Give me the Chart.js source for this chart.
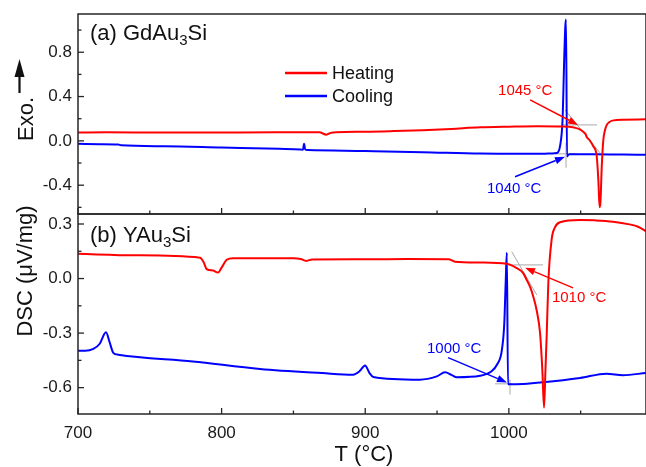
<!DOCTYPE html>
<html><head><meta charset="utf-8">
<script src="https://cdn.jsdelivr.net/npm/chart.js@4/dist/chart.umd.min.js"></script>
<style>
html,body{margin:0;padding:0;background:#fff;}
#wrap{position:relative;width:646px;height:467px;overflow:hidden;background:#fff;}
canvas{position:absolute;left:0;}
</style></head><body>
<div id="wrap">
<canvas id="ca" width="646" height="216" style="top:0px"></canvas>
<canvas id="cb" width="646" height="277" style="top:190px"></canvas>
</div>
<script>
// ---------- axis ticks ----------
const xTicks = [700, 800, 900, 1000];
const xMinorTicks = [750, 850, 950, 1050];
const yTicksA = [-0.4, 0.0, 0.4, 0.8];
const yMinorA = [-0.6, -0.2, 0.2, 0.6, 1.0];
const yTicksB = [-0.6, -0.3, 0.0, 0.3];
const yMinorB = [-0.45, -0.15, 0.15];

// ---------- (a) GdAu3Si ----------
const gdHeatT = [700,720,760,800,840,868,873,876,880,900,920,940,960,980,1000,1020,1035,1042,1047,1050,1052,1053.5,1054.2,1056,1058.8,1061.2,1062.3,1063.2,1063.8,1064.7,1065.8,1067,1068.2,1070,1072.8,1080,1095.5];
const gdHeatV = [0.075,0.077,0.075,0.076,0.077,0.077,0.056,0.072,0.078,0.082,0.088,0.096,0.108,0.122,0.128,0.132,0.13,0.127,0.115,0.1,0.08,0.06,0.035,0.01,-0.05,-0.14,-0.35,-0.6,-0.55,-0.23,0.01,0.1,0.144,0.17,0.185,0.19,0.195];
const gdCoolT = [700,715,728,730,760,800,840,855,856.6,857.4,858.2,860,900,940,980,1010,1025,1030,1033.3,1035.6,1037.5,1038.4,1039.3,1039.8,1040.5,1042,1050,1060,1080,1095.5];
const gdCoolV = [-0.027,-0.03,-0.033,-0.04,-0.048,-0.06,-0.072,-0.078,-0.08,-0.027,-0.078,-0.083,-0.092,-0.102,-0.115,-0.117,-0.116,-0.114,-0.11,-0.05,0.22,0.67,1.03,1.096,-0.14,-0.12,-0.12,-0.121,-0.124,-0.126];

// ---------- (b) YAu3Si ----------
const yHeatT = [700,740,785,787.5,789.6,794,797.5,800,803.5,808,850,855,859,863,900,930,958,962.5,980,998.5,1005.5,1010,1012.4,1015,1017,1019.5,1021.7,1023.3,1024.5,1025.5,1026.4,1027.5,1029.8,1032,1035.6,1049.6,1060,1072.6,1084,1090,1095.5];
const yHeatV = [0.136,0.128,0.115,0.09,0.052,0.044,0.033,0.06,0.103,0.112,0.112,0.108,0.097,0.105,0.106,0.107,0.106,0.093,0.088,0.081,0.057,0.03,-0.007,-0.05,-0.099,-0.18,-0.298,-0.5,-0.71,-0.5,-0.3,-0.02,0.215,0.28,0.31,0.322,0.32,0.313,0.298,0.285,0.26];
const yCoolT = [700,705,710.7,715,719.5,722,724.6,728,780,826.7,870,891.5,896,899.9,903,905.6,938,949.8,955.6,960,963.7,980,988,992,995,996.8,997.8,998.6,999.4,1010,1023.8,1049.6,1068,1079.5,1095.5];
const yCoolV = [-0.397,-0.397,-0.387,-0.36,-0.296,-0.35,-0.409,-0.419,-0.456,-0.497,-0.52,-0.529,-0.51,-0.478,-0.52,-0.541,-0.556,-0.538,-0.516,-0.53,-0.543,-0.535,-0.51,-0.47,-0.4,-0.25,-0.02,0.142,-0.582,-0.58,-0.571,-0.547,-0.523,-0.532,-0.519];

// ---------- onset annotations (data coordinates) ----------
const gdTangents = [[1037.7,0.144,1061.4,0.144],[1039.1,0.279,1063.5,-0.108],[1032.2,-0.117,1047.5,-0.117],[1039.8,-0.018,1039.8,-0.243]];
const gdArrows = [[1014.8,0.37,1048.2,0.144,'#ff0000'],[1004.3,-0.324,1039.1,-0.144,'#0000ff']];
const gdLabels = [[992.5,0.45,'1045 °C','#ff0000'],[984.8,-0.432,'1040 °C','#0000ff']];
const yTangents = [[1000.8,0.075,1023.8,0.075],[1002,0.148,1019.4,-0.09],[990.4,-0.579,1002.2,-0.579],[1000.8,-0.556,1000.8,-0.638]];
const yArrows = [[1044.7,-0.051,1011.3,0.059,'#ff0000'],[957.7,-0.435,998.7,-0.572,'#0000ff']];
const yLabels = [[1030,-0.106,'1010 °C','#ff0000'],[943,-0.386,'1000 °C','#0000ff']];

const FONT = '"Liberation Sans", Arial, Helvetica, sans-serif';
const RED = '#ff0000', BLUE = '#0000ff';

function pts(T, V){ return T.map((t,i)=>({x:t, y:V[i]})); }
function P(chart, t, v){ return [chart.scales.x.getPixelForValue(t), chart.scales.y.getPixelForValue(v)]; }

function overlay(cfg){
  return {
    id: 'ov_' + cfg.name,
    beforeDatasetsDraw(chart){
      const ctx = chart.ctx, a = chart.chartArea;
      ctx.save();
      ctx.beginPath(); ctx.rect(a.left, a.top, a.right-a.left, a.bottom-a.top); ctx.clip();
      ctx.strokeStyle = '#a8a8a8'; ctx.lineWidth = 1;
      cfg.tangents.forEach(s=>{
        const p = P(chart,s[0],s[1]), q = P(chart,s[2],s[3]);
        ctx.beginPath(); ctx.moveTo(p[0],p[1]); ctx.lineTo(q[0],q[1]); ctx.stroke();
      });
      ctx.restore();
    },
    afterDatasetsDraw(chart){
      const ctx = chart.ctx, a = chart.chartArea;
      ctx.save();
      // arrows
      cfg.arrows.forEach(s=>{
        const p = P(chart,s[0],s[1]), q = P(chart,s[2],s[3]);
        const ang = Math.atan2(q[1]-p[1], q[0]-p[0]);
        const L = 10, W = 3.6;
        const bx = q[0]-L*Math.cos(ang), by = q[1]-L*Math.sin(ang);
        ctx.strokeStyle = s[4]; ctx.fillStyle = s[4]; ctx.lineWidth = 1.5;
        ctx.beginPath(); ctx.moveTo(p[0],p[1]); ctx.lineTo(bx,by); ctx.stroke();
        ctx.beginPath(); ctx.moveTo(q[0],q[1]);
        ctx.lineTo(bx + W*Math.sin(ang), by - W*Math.cos(ang));
        ctx.lineTo(bx - W*Math.sin(ang), by + W*Math.cos(ang));
        ctx.closePath(); ctx.fill();
      });
      // labels
      ctx.font = '15px ' + FONT; ctx.textAlign = 'left'; ctx.textBaseline = 'middle';
      cfg.labels.forEach(s=>{
        const p = P(chart,s[0],s[1]);
        ctx.fillStyle = s[3]; ctx.fillText(s[2], p[0], p[1]);
      });
      // frame
      ctx.strokeStyle = '#262626'; ctx.lineWidth = 1.5;
      ctx.strokeRect(a.left, a.top, a.right-a.left, a.bottom-a.top);
      // inward ticks
      ctx.lineWidth = 1.3;
      const xs = chart.scales.x, ys = chart.scales.y;
      const tickX = (v,len)=>{ const x = xs.getPixelForValue(v); ctx.beginPath(); ctx.moveTo(x,a.bottom); ctx.lineTo(x,a.bottom-len); ctx.stroke(); };
      const tickY = (v,len)=>{ const y = ys.getPixelForValue(v); ctx.beginPath(); ctx.moveTo(a.left,y); ctx.lineTo(a.left+len,y); ctx.stroke(); };
      xTicks.forEach(v=>tickX(v,6)); xMinorTicks.forEach(v=>tickX(v,3.5));
      cfg.yMajor.forEach(v=>tickY(v,6)); cfg.yMinor.forEach(v=>tickY(v,3.5));
      // panel label with subscript
      ctx.fillStyle = '#111'; ctx.textBaseline = 'alphabetic'; ctx.textAlign = 'left';
      let x = 90; const by = a.top + cfg.labelDy;
      ctx.font = '22px ' + FONT;
      ctx.fillText(cfg.title[0], x, by); x += ctx.measureText(cfg.title[0]).width;
      ctx.font = '15px ' + FONT;
      ctx.fillText(cfg.title[1], x, by + 5); x += ctx.measureText(cfg.title[1]).width;
      ctx.font = '22px ' + FONT;
      ctx.fillText(cfg.title[2], x, by);
      if (cfg.extra) cfg.extra(chart, ctx);
      ctx.restore();
    }
  };
}

function makeChart(id, cfg){
  return new Chart(document.getElementById(id), {
    type: 'line',
    data: { datasets: [
      { label:'Heating', data: cfg.heat, borderColor: RED, borderWidth: 2, pointRadius: 0, cubicInterpolationMode:'monotone' },
      { label:'Cooling', data: cfg.cool, borderColor: BLUE, borderWidth: 2, pointRadius: 0, cubicInterpolationMode:'monotone' }
    ]},
    options: {
      responsive: false, animation: false, devicePixelRatio: 1,
      layout: { padding: { top: cfg.padTop, bottom: cfg.padBottom, left: 0, right: 0 } },
      plugins: { legend: { display: false }, tooltip: { enabled: false } },
      scales: {
        x: { type: 'linear', min: 700, max: 1095.5, display: cfg.showX,
             grid: { display: false, drawTicks: false }, border: { display: false },
             ticks: { font: { size: 17, family: FONT }, color: '#1a1a1a', padding: 9, maxRotation: 0, autoSkip: false,
                      callback: v => String(v) },
             afterBuildTicks: s => { s.ticks = xTicks.map(v => ({ value: v })); },
             afterFit: s => { s.height = cfg.showX ? 53 : 0; s.paddingLeft = 0; s.paddingRight = 0; } },
        y: { type: 'linear', min: cfg.yMin, max: cfg.yMax,
             grid: { display: false, drawTicks: false }, border: { display: false },
             ticks: { font: { size: 17, family: FONT }, color: '#1a1a1a', padding: 6, autoSkip: false,
                      callback: v => Number(v).toFixed(1) },
             afterBuildTicks: s => { s.ticks = cfg.yMajor.map(v => ({ value: v })); },
             afterFit: s => { s.width = 78; s.paddingTop = 0; s.paddingBottom = 0; } }
      }
    },
    plugins: [overlay(cfg)]
  });
}

makeChart('ca', {
  name: 'a', heat: pts(gdHeatT, gdHeatV), cool: pts(gdCoolT, gdCoolV),
  yMin: -0.66, yMax: 1.145, yMajor: yTicksA, yMinor: yMinorA,
  showX: false, padTop: 14, padBottom: 2, labelDy: 26,
  title: ['(a) GdAu', '3', 'Si'],
  tangents: gdTangents, arrows: gdArrows, labels: gdLabels,
  extra: (chart, ctx) => {
    // legend
    ctx.lineWidth = 2.5;
    ctx.strokeStyle = RED; ctx.beginPath(); ctx.moveTo(285,73); ctx.lineTo(327,73); ctx.stroke();
    ctx.strokeStyle = BLUE; ctx.beginPath(); ctx.moveTo(285,96); ctx.lineTo(327,96); ctx.stroke();
    ctx.fillStyle = '#111'; ctx.font = '18px ' + FONT; ctx.textAlign = 'left'; ctx.textBaseline = 'middle';
    ctx.fillText('Heating', 332, 74); ctx.fillText('Cooling', 332, 97);
    // Exo. with arrow
    ctx.save(); ctx.translate(33, 119); ctx.rotate(-Math.PI/2);
    ctx.font = '22px ' + FONT; ctx.textAlign = 'center'; ctx.textBaseline = 'alphabetic';
    ctx.fillText('Exo.', 0, 0); ctx.restore();
    ctx.strokeStyle = '#111'; ctx.fillStyle = '#111'; ctx.lineWidth = 2.2;
    ctx.beginPath(); ctx.moveTo(19.5, 93); ctx.lineTo(19.5, 72); ctx.stroke();
    ctx.beginPath(); ctx.moveTo(19.5, 59); ctx.lineTo(24.5, 77); ctx.lineTo(14.5, 77); ctx.closePath(); ctx.fill();
  }
});

makeChart('cb', {
  name: 'b', heat: pts(yHeatT, yHeatV), cool: pts(yCoolT, yCoolV),
  yMin: -0.745, yMax: 0.355, yMajor: yTicksB, yMinor: yMinorB,
  showX: true, padTop: 24, padBottom: 0, labelDy: 28,
  title: ['(b) YAu', '3', 'Si'],
  tangents: yTangents, arrows: yArrows, labels: yLabels,
  extra: (chart, ctx) => {
    ctx.fillStyle = '#111'; ctx.font = '22px ' + FONT; ctx.textAlign = 'center'; ctx.textBaseline = 'alphabetic';
    ctx.fillText('T (°C)', 364, 271);
    ctx.save(); ctx.translate(32, 81); ctx.rotate(-Math.PI/2);
    ctx.fillText('DSC (μV/mg)', 0, 0); ctx.restore();
  }
});
</script>
</body></html>
